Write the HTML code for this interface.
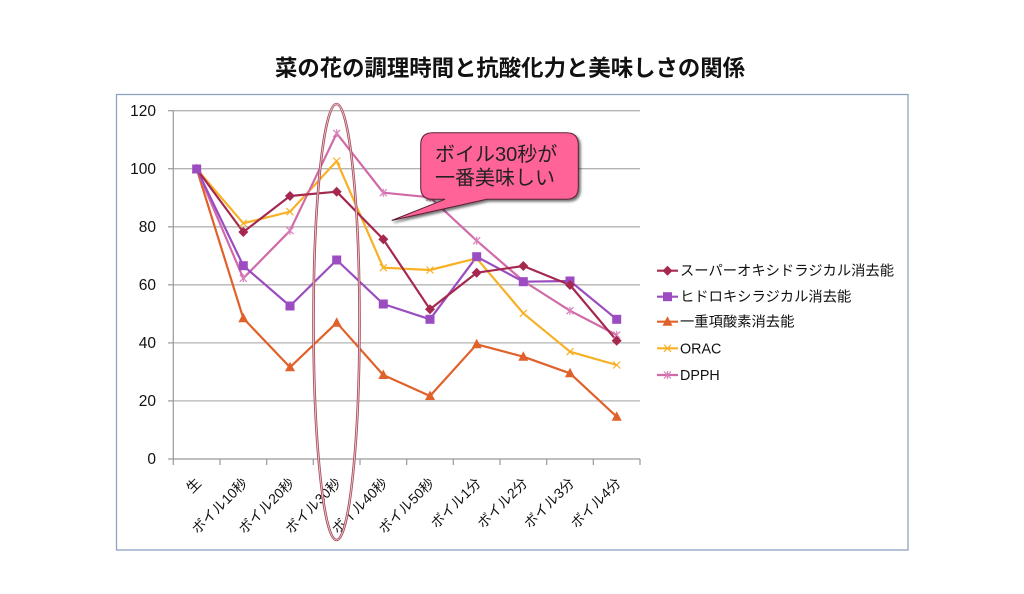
<!DOCTYPE html>
<html><head><meta charset="utf-8"><style>
html,body{margin:0;padding:0;background:#fff;}
svg{display:block;}
text{font-family:"Liberation Sans","Noto Sans CJK JP",sans-serif;}
</style></head><body>
<svg width="1024" height="594" viewBox="0 0 1024 594" xmlns="http://www.w3.org/2000/svg">
<defs>
<filter id="sh" x="-10%" y="-10%" width="130%" height="140%">
<feDropShadow dx="2" dy="2" stdDeviation="1.2" flood-color="#000" flood-opacity="0.55"/>
</filter>
<g id="dia"><path d="M0,-5 L5,0 L0,5 L-5,0 Z" fill="#a5284f"/></g>
<g id="sq"><rect x="-4.5" y="-4.5" width="9" height="9" fill="#9b4cc0"/></g>
<g id="tri"><path d="M0,-5.5 L5,4 L-5,4 Z" fill="#e0622a"/></g>
<g id="xx"><path d="M-3.5,-3.5 L3.5,3.5 M-3.5,3.5 L3.5,-3.5" stroke="#f8b024" stroke-width="1.2"/></g>
<g id="ast"><path d="M-3.5,-3.5 L3.5,3.5 M-3.5,3.5 L3.5,-3.5 M0,-4 L0,4" stroke="#d880bc" stroke-width="1.2"/></g>
</defs>
<rect width="1024" height="594" fill="#fff"/>
<text x="275" y="76" font-size="22.5" font-weight="bold" fill="#111" textLength="470" lengthAdjust="spacingAndGlyphs">菜の花の調理時間と抗酸化力と美味しさの関係</text>
<rect x="116.5" y="94.5" width="791.5" height="455.5" fill="#fff" stroke="#8ea2c2" stroke-width="1.3"/>
<g stroke="#b4b4b4" stroke-width="1.3">
<line x1="173.3" y1="110.7" x2="640" y2="110.7"/>
<line x1="173.3" y1="168.7" x2="640" y2="168.7"/>
<line x1="173.3" y1="226.8" x2="640" y2="226.8"/>
<line x1="173.3" y1="284.8" x2="640" y2="284.8"/>
<line x1="173.3" y1="342.9" x2="640" y2="342.9"/>
<line x1="173.3" y1="400.9" x2="640" y2="400.9"/>
</g>
<g stroke="#999" stroke-width="1.2">
<line x1="173.3" y1="110.7" x2="173.3" y2="459"/>
<line x1="173.3" y1="459" x2="640" y2="459"/>
<line x1="168" y1="110.7" x2="173.3" y2="110.7"/>
<line x1="168" y1="168.7" x2="173.3" y2="168.7"/>
<line x1="168" y1="226.8" x2="173.3" y2="226.8"/>
<line x1="168" y1="284.8" x2="173.3" y2="284.8"/>
<line x1="168" y1="342.9" x2="173.3" y2="342.9"/>
<line x1="168" y1="400.9" x2="173.3" y2="400.9"/>
<line x1="168" y1="459" x2="173.3" y2="459"/>
<line x1="173.3" y1="459" x2="173.3" y2="465"/>
<line x1="220" y1="459" x2="220" y2="465"/>
<line x1="266.7" y1="459" x2="266.7" y2="465"/>
<line x1="313.3" y1="459" x2="313.3" y2="465"/>
<line x1="360" y1="459" x2="360" y2="465"/>
<line x1="406.7" y1="459" x2="406.7" y2="465"/>
<line x1="453.3" y1="459" x2="453.3" y2="465"/>
<line x1="500" y1="459" x2="500" y2="465"/>
<line x1="546.7" y1="459" x2="546.7" y2="465"/>
<line x1="593.3" y1="459" x2="593.3" y2="465"/>
<line x1="640" y1="459" x2="640" y2="465"/>
</g>
<g font-size="15.5" fill="#111" text-anchor="end">
<text x="156" y="116">120</text>
<text x="156" y="174">100</text>
<text x="156" y="232">80</text>
<text x="156" y="290">60</text>
<text x="156" y="348">40</text>
<text x="156" y="406">20</text>
<text x="156" y="464">0</text>
</g>
<g font-size="14" fill="#111" text-anchor="end">
<text transform="translate(202,484) rotate(-45)">生</text>
<text transform="translate(248.3,484) rotate(-45)">ボイル10秒</text>
<text transform="translate(295,484) rotate(-45)">ボイル20秒</text>
<text transform="translate(341.7,484) rotate(-45)">ボイル30秒</text>
<text transform="translate(388.3,484) rotate(-45)">ボイル40秒</text>
<text transform="translate(435,484) rotate(-45)">ボイル50秒</text>
<text transform="translate(481.7,484) rotate(-45)">ボイル1分</text>
<text transform="translate(528.3,484) rotate(-45)">ボイル2分</text>
<text transform="translate(575,484) rotate(-45)">ボイル3分</text>
<text transform="translate(621.7,484) rotate(-45)">ボイル4分</text>
</g>
<g fill="none" stroke-width="2.2" stroke-linejoin="round">
<polyline stroke="#e0622a" points="196.7,169 243.3,318.3 290,367.3 336.7,322.7 383.3,375 430,396 476.7,344.3 523.3,356.7 570,373.3 616.7,416.7"/>
<polyline stroke="#f8b024" points="196.7,169 243.3,223.3 290,211.7 336.7,161 383.3,267.7 430,270 476.7,258.3 523.3,313.3 570,351.7 616.7,365"/>
<polyline stroke="#d06aa8" points="196.7,169 243.3,278.3 290,230.7 336.7,133.3 383.3,192.7 430,197.3 476.7,240.7 523.3,281 570,310.7 616.7,335"/>
<polyline stroke="#9b4cc0" points="196.7,169 243.3,265.7 290,306 336.7,260 383.3,304 430,319.3 476.7,256.7 523.3,281.7 570,281 616.7,319.3"/>
<polyline stroke="#a5284f" points="196.7,169 243.3,232 290,196 336.7,191.7 383.3,239.3 430,309.3 476.7,272.7 523.3,266 570,285 616.7,340.7"/>
</g>
<g>
<use href="#tri" x="196.7" y="169"/><use href="#tri" x="243.3" y="318.3"/><use href="#tri" x="290" y="367.3"/><use href="#tri" x="336.7" y="322.7"/><use href="#tri" x="383.3" y="375"/><use href="#tri" x="430" y="396"/><use href="#tri" x="476.7" y="344.3"/><use href="#tri" x="523.3" y="356.7"/><use href="#tri" x="570" y="373.3"/><use href="#tri" x="616.7" y="416.7"/>
<use href="#xx" x="196.7" y="169"/><use href="#xx" x="243.3" y="223.3"/><use href="#xx" x="290" y="211.7"/><use href="#xx" x="336.7" y="161"/><use href="#xx" x="383.3" y="267.7"/><use href="#xx" x="430" y="270"/><use href="#xx" x="476.7" y="258.3"/><use href="#xx" x="523.3" y="313.3"/><use href="#xx" x="570" y="351.7"/><use href="#xx" x="616.7" y="365"/>
<use href="#ast" x="243.3" y="278.3"/><use href="#ast" x="290" y="230.7"/><use href="#ast" x="336.7" y="133.3"/><use href="#ast" x="383.3" y="192.7"/><use href="#ast" x="430" y="197.3"/><use href="#ast" x="476.7" y="240.7"/><use href="#ast" x="523.3" y="281"/><use href="#ast" x="570" y="310.7"/><use href="#ast" x="616.7" y="335"/>
<use href="#sq" x="196.7" y="169"/><use href="#sq" x="243.3" y="265.7"/><use href="#sq" x="290" y="306"/><use href="#sq" x="336.7" y="260"/><use href="#sq" x="383.3" y="304"/><use href="#sq" x="430" y="319.3"/><use href="#sq" x="476.7" y="256.7"/><use href="#sq" x="523.3" y="281.7"/><use href="#sq" x="570" y="281"/><use href="#sq" x="616.7" y="319.3"/>
<use href="#dia" x="243.3" y="232"/><use href="#dia" x="290" y="196"/><use href="#dia" x="336.7" y="191.7"/><use href="#dia" x="383.3" y="239.3"/><use href="#dia" x="430" y="309.3"/><use href="#dia" x="476.7" y="272.7"/><use href="#dia" x="523.3" y="266"/><use href="#dia" x="570" y="285"/><use href="#dia" x="616.7" y="340.7"/>
</g>
<ellipse cx="336.5" cy="322" rx="23" ry="218" fill="none" stroke="#a84a5a" stroke-width="2.6"/>
<ellipse cx="336.5" cy="322" rx="23" ry="218" fill="none" stroke="#ecccd2" stroke-width="0.9"/>
<path d="M432.7,132.7 H566.3 Q578.3,132.7 578.3,144.7 V187.3 Q578.3,199.3 566.3,199.3 H486.7 L391.7,220.5 L445,199.3 H432.7 Q420.7,199.3 420.7,187.3 V144.7 Q420.7,132.7 432.7,132.7 Z" fill="#ff6398" stroke="#5a2030" stroke-width="1" filter="url(#sh)"/>
<text x="435" y="161" font-size="20" fill="#222">ボイル30秒が</text>
<text x="435" y="184.5" font-size="20" fill="#222">一番美味しい</text>
<g stroke-width="2.2">
<line x1="657" y1="270.7" x2="678" y2="270.7" stroke="#a5284f"/>
<line x1="657" y1="296.7" x2="678" y2="296.7" stroke="#9b4cc0"/>
<line x1="657" y1="321.7" x2="678" y2="321.7" stroke="#e0622a"/>
<line x1="657" y1="348.3" x2="678" y2="348.3" stroke="#f8b024"/>
<line x1="657" y1="375" x2="678" y2="375" stroke="#d06aa8"/>
</g>
<use href="#dia" x="667.5" y="270.7"/>
<use href="#sq" x="667.5" y="296.7"/>
<use href="#tri" x="667.5" y="321.7"/>
<use href="#xx" x="667.5" y="348.3"/>
<use href="#ast" x="667.5" y="375"/>
<g font-size="14.3" fill="#111">
<text x="680" y="275.7">スーパーオキシドラジカル消去能</text>
<text x="680" y="301.7">ヒドロキシラジカル消去能</text>
<text x="680" y="326.7">一重項酸素消去能</text>
<text x="680" y="353.3">ORAC</text>
<text x="680" y="380">DPPH</text>
</g>
</svg>
</body></html>
